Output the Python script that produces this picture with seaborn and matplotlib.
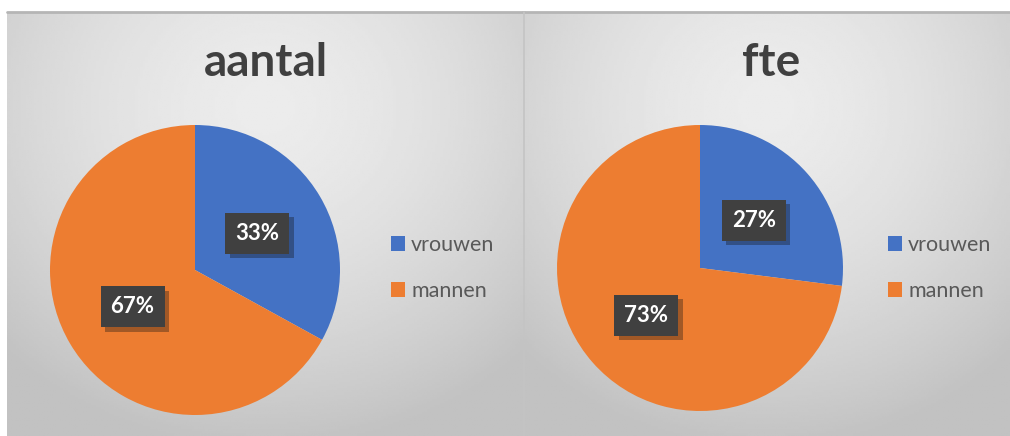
import numpy as np
import seaborn as sns
import matplotlib.pyplot as plt
import matplotlib.patheffects as pe

sns.set_theme(style="white")
plt.rcParams['font.family'] = ['Lato', 'DejaVu Sans']

# data
categories = ["vrouwen", "mannen"]
titles = ["aantal", "fte"]
aantal = [33, 67]
fte = [27, 73]
colors = ["#4472C4", "#ED7D31"]

W, H = 1010, 436
fig = plt.figure(figsize=(W / 100, H / 100), dpi=100)
fig.patch.set_facecolor("white")


def px(x0, y0, w, h):
    # pixel box (top-left origin) -> figure fraction
    return [x0 / W, 1 - (y0 + h) / H, w / W, h / H]


def gradient_panel(rect):
    ax = fig.add_axes(px(*rect))
    yy, xx = np.mgrid[-1:1:200j, -1:1:200j]
    r = np.sqrt((xx * 1.0) ** 2 + ((yy + 0.55) * 0.9) ** 2)
    r = np.clip(r / 1.45, 0, 1)
    light, dark = 0.925, 0.76
    img = light + (dark - light) * r ** 1.6
    ax.imshow(img, cmap="gray", vmin=0, vmax=1, aspect="auto",
              extent=[0, 1, 0, 1], origin="upper")
    ax.set_axis_off()
    ax.plot([0, 1], [1, 1], color="#b5b5b5", lw=2, transform=ax.transAxes,
            clip_on=False)
    return ax


panels = [(7, 12, 517, 424), (523, 12, 487, 424)]
for p in panels:
    gradient_panel(p)
fig.add_artist(plt.Line2D([523.5 / W] * 2, [0, 1 - 12 / H], color="#c4c4c4",
                          lw=1.2, transform=fig.transFigure))

pie_centers = [(195, 270, 145), (700, 268, 143)]
title_x = [266, 771]
legend_x = [380, 877]
series = [aantal, fte]

for i, vals in enumerate(series):
    cx, cy, r = pie_centers[i]
    ax = fig.add_axes(px(cx - r, cy - r, 2 * r, 2 * r))
    wedges, texts, autotexts = ax.pie(
        vals, colors=colors, startangle=90, counterclock=False,
        autopct="%1.0f%%", pctdistance=0.5, radius=1.0,
        wedgeprops=dict(linewidth=0))
    for t in autotexts:
        t.set_color("white")
        t.set_fontsize(16)
        t.set_fontweight("bold")
        t.set_bbox(dict(boxstyle="square,pad=0.45", facecolor="#404040",
                        edgecolor="none"))
        t.get_bbox_patch().set_path_effects(
            [pe.withSimplePatchShadow(offset=(3, -3), alpha=0.35)])
    ax.set_xlim(-1, 1)
    ax.set_ylim(-1, 1)
    ax.set_aspect("equal")
    ax.set_axis_off()

    fig.text(title_x[i] / W, 1 - 63 / H, titles[i], ha="center", va="center",
             fontsize=33, fontweight="bold", color="#404040")

    fig.legend(wedges, categories, loc="center left",
               bbox_to_anchor=(legend_x[i] / W, 1 - 268 / H),
               frameon=False, fontsize=15.5, labelcolor="#595959",
               handlelength=0.65, handleheight=0.65, handletextpad=0.3,
               labelspacing=1.2, borderpad=0)

fig.savefig("out.png", dpi=100)
